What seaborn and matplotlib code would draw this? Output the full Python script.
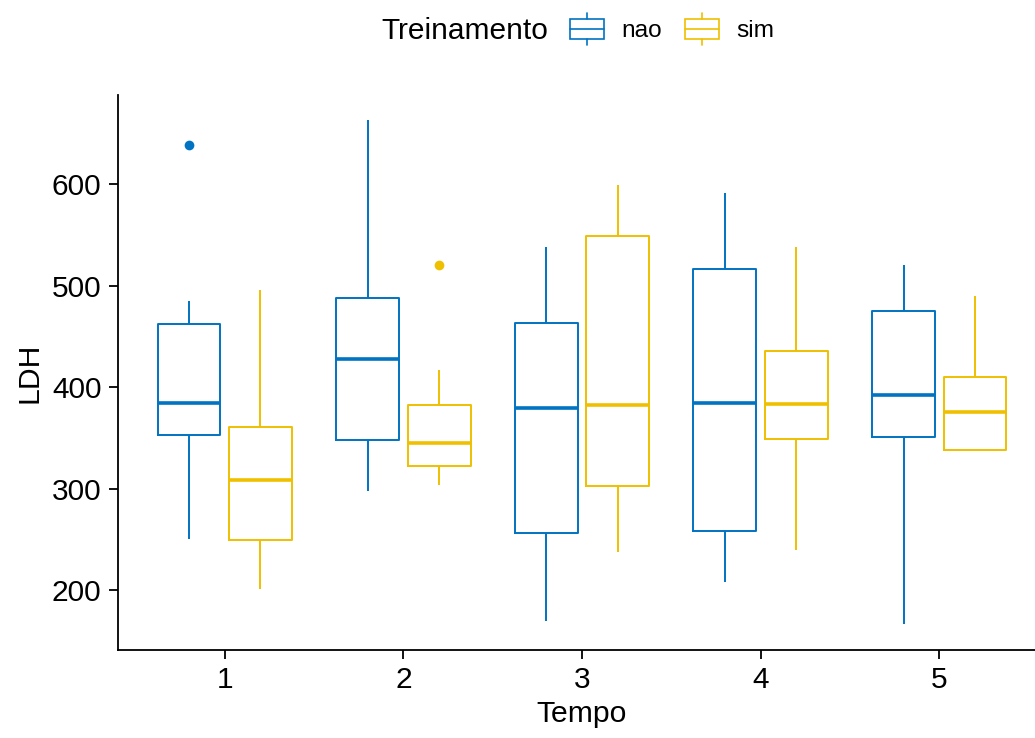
import matplotlib
matplotlib.use("Agg")
import matplotlib.pyplot as plt
import numpy as np
import pandas as pd
import seaborn as sns
from matplotlib.legend_handler import HandlerBase
from matplotlib.patches import Rectangle, Patch
from matplotlib.lines import Line2D

# LDH observations per training group and time point
tempo_levels = ["1", "2", "3", "4", "5"]
treino_levels = ["nao", "sim"]

ldh_nao_t1 = [250, 331, 353, 370, 384, 425, 462, 485, 638]
ldh_nao_t2 = [298, 322, 348, 395, 428, 461, 488, 560, 663]
ldh_nao_t3 = [169, 214, 256, 330, 379, 421, 463, 502, 538]
ldh_nao_t4 = [208, 231, 258, 322, 384, 457, 516, 553, 591]
ldh_nao_t5 = [167, 318, 351, 372, 392, 440, 475, 497, 520]

ldh_sim_t1 = [201, 226, 249, 281, 308, 337, 361, 420, 496]
ldh_sim_t2 = [303, 314, 322, 336, 345, 361, 382, 417, 520]
ldh_sim_t3 = [237, 270, 302, 348, 382, 470, 549, 575, 599]
ldh_sim_t4 = [239, 312, 349, 366, 383, 410, 435, 486, 538]
ldh_sim_t5 = [338, 338, 338, 360, 375, 392, 410, 452, 490]

y_ticks = [200, 300, 400, 500, 600]
colors = {"nao": "#0073C2", "sim": "#EFC000"}

groups = {
    "nao": [ldh_nao_t1, ldh_nao_t2, ldh_nao_t3, ldh_nao_t4, ldh_nao_t5],
    "sim": [ldh_sim_t1, ldh_sim_t2, ldh_sim_t3, ldh_sim_t4, ldh_sim_t5],
}
rows = []
for treino in treino_levels:
    for tempo, values in zip(tempo_levels, groups[treino]):
        for v in values:
            rows.append({"Tempo": tempo, "Treinamento": treino, "LDH": v})
df = pd.DataFrame(rows)

sns.set_style("ticks")
plt.rcParams["font.family"] = ["Liberation Sans", "DejaVu Sans"]
plt.rcParams["text.color"] = "black"
plt.rcParams["axes.labelcolor"] = "black"
plt.rcParams["xtick.color"] = "black"
plt.rcParams["ytick.color"] = "black"

fig = plt.figure(figsize=(10.35, 7.38), dpi=100)
ax = fig.add_axes([117.5 / 1035, 88 / 738, 929 / 1035, 555 / 738])

sns.boxplot(
    data=df, x="Tempo", y="LDH", hue="Treinamento",
    order=tempo_levels, hue_order=treino_levels, palette=colors,
    fill=False, width=0.8, gap=0.12, linewidth=1.4, whis=1.5,
    showcaps=False,
    medianprops={"linewidth": 2.6},
    flierprops={"marker": "o", "markersize": 7},
    legend=False, ax=ax,
)
# filled outlier dots in the group colour
for line in ax.lines:
    if line.get_marker() == "o":
        c = line.get_markeredgecolor()
        line.set_markerfacecolor(c)
        line.set_markeredgewidth(0)

ax.set_xlim(-0.6, 4.6)
ax.set_ylim(140.9, 687.7)
ax.set_yticks(y_ticks)
sns.despine(ax=ax)
for side in ("left", "bottom"):
    ax.spines[side].set_linewidth(1.3)
    ax.spines[side].set_color("black")
ax.tick_params(axis="both", length=6.5, width=1.3, labelsize=21.5, pad=5)
ax.set_xlabel("Tempo", fontsize=21.7, labelpad=4)
ax.set_ylabel("LDH", fontsize=21.7, labelpad=6)


class BoxKeyHandler(HandlerBase):
    def create_artists(self, legend, orig_handle, xdescent, ydescent,
                       width, height, fontsize, trans):
        c = orig_handle.get_edgecolor()
        x0, y0 = -xdescent, -ydescent
        xm = x0 + width / 2
        b0, b1 = y0 + 0.167 * height, y0 + 0.833 * height
        lw = 1.2
        rect = Rectangle((x0, b0), width, b1 - b0, facecolor="none",
                         edgecolor=c, lw=lw, transform=trans)
        med = Line2D([x0, x0 + width], [(b0 + b1) / 2] * 2, color=c, lw=lw, transform=trans)
        w_lo = Line2D([xm, xm], [y0, b0], color=c, lw=lw, transform=trans)
        w_hi = Line2D([xm, xm], [b1, y0 + height], color=c, lw=lw, transform=trans)
        return [rect, med, w_lo, w_hi]


handles = [Patch(edgecolor=colors[t], facecolor="none") for t in treino_levels]
fig.text(381 / 1035, 1 - 31 / 738, "Treinamento", fontsize=21.5, va="center", ha="left")
fig.legend(
    handles, treino_levels, handler_map={Patch: BoxKeyHandler()},
    loc="center left", bbox_to_anchor=(570 / 1035, 1 - 29 / 738),
    ncol=2, frameon=False, fontsize=17.6, borderpad=0, borderaxespad=0,
    handlelength=1.39, handleheight=1.6, handletextpad=0.7, columnspacing=0.95,
)

fig.savefig("out.png", dpi=100, facecolor="white")
